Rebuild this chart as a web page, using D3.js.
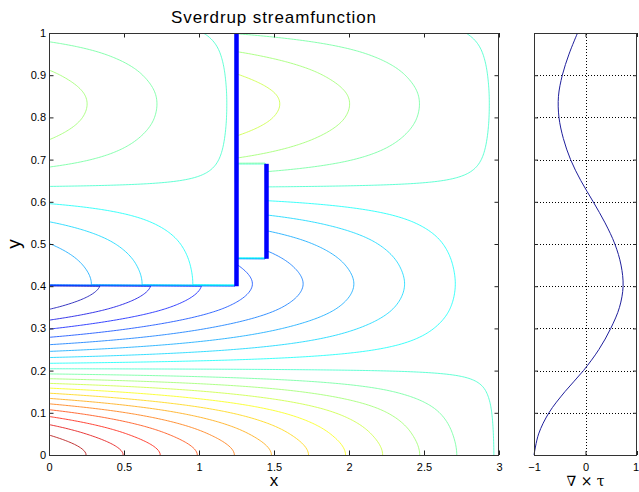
<!DOCTYPE html>
<html>
<head>
<meta charset="utf-8">
<script src="https://cdn.jsdelivr.net/npm/d3@7"></script>
<style>
  body { margin: 0; background: #fff; }
  svg { display: block; }
  text { font-family: "Liberation Sans", Arial, Helvetica, sans-serif; fill: #000; }
</style>
</head>
<body>
<svg id="fig" width="639" height="492"></svg>
<script>
// Wind-stress curl profile (right panel), sampled every 0.05 in y
const curlY = [0, 0.05, 0.1, 0.15, 0.2, 0.25, 0.3, 0.35, 0.4, 0.45, 0.5,
               0.55, 0.6, 0.65, 0.7, 0.75, 0.8, 0.85, 0.9, 0.95, 1];
const curlValues = [-1.00, -0.91, -0.71, -0.40, -0.04, 0.26, 0.49, 0.66, 0.73, 0.69, 0.57,
                    0.38, 0.15, -0.09, -0.29, -0.43, -0.515, -0.525, -0.45, -0.32, -0.155];

// Coastline geometry: eastern boundary, continental wall, shelf edge and island
const eastX = 3;
const wallX = 1.25, shelfY = 0.4;
const islandX = 1.45, islandY0 = 0.465, islandY1 = 0.69;

// Axis ticks
const xTicks = [0, 0.5, 1, 1.5, 2, 2.5, 3];
const xTickLabels = ["0", "0.5", "1", "1.5", "2", "2.5", "3"];
const yTicks = [0, 0.1, 0.2, 0.3, 0.4, 0.5, 0.6, 0.7, 0.8, 0.9, 1];
const yTickLabels = ["0", "0.1", "0.2", "0.3", "0.4", "0.5", "0.6", "0.7", "0.8", "0.9", "1"];
const curlTicks = [-1, 0, 1];
const curlTickLabels = ["\u22121", "0", "1"];
const nLevels = 20;

const svg = d3.select("#fig");

// ---------- scales ----------
const x = d3.scaleLinear([0, 3], [49, 499]);
const y = d3.scaleLinear([0, 1], [455, 33]);
const xr = d3.scaleLinear([-1, 1], [534, 637]);

// ---------- curl interpolation (Catmull-Rom through the samples) ----------
function curlAt(yv) {
  const n = curlValues.length - 1;
  const h = curlY[1] - curlY[0];
  const k = Math.min(n - 1, Math.max(0, Math.floor(yv / h)));
  const t = (yv - curlY[k]) / h;
  const get = i => {
    if (i < 0) return curlValues[-i];                 // mirror: flat at y = 0
    if (i > n) return 2 * curlValues[n] - curlValues[n - 1];
    return curlValues[i];
  };
  const p0 = get(k - 1), p1 = get(k), p2 = get(k + 1), p3 = get(k + 2);
  return 0.5 * (2 * p1 + (-p0 + p2) * t + (2 * p0 - 5 * p1 + 4 * p2 - p3) * t * t +
                (-p0 + 3 * p1 - 3 * p2 + p3) * t * t * t);
}

// ---------- Sverdrup streamfunction on a grid ----------
const nx = 301, ny = 281;
const gx = d3.range(nx).map(i => i * 3 / (nx - 1));
const gy = d3.range(ny).map(j => j / (ny - 1));
const cy = gy.map(curlAt);
const field = new Float64Array(nx * ny);
for (let j = 0; j < ny; j++) {
  for (let i = 0; i < nx; i++) {
    const xv = gx[i], yv = gy[j];
    let v;
    if (xv < wallX - 1e-9 && yv > shelfY + 1e-9) {
      v = -(wallX - xv) * cy[j];                    // basin closed by the wall
    } else if (xv > wallX + 1e-9 && xv < islandX - 1e-9 && yv > islandY0 && yv < islandY1) {
      v = 0;                                        // land between wall and island
    } else {
      v = -(eastX - xv) * cy[j];                    // integrated from the eastern boundary
    }
    field[j * nx + i] = v;
  }
}
const ext = d3.extent(field);
const levels = d3.range(1, nLevels + 1).map(k => ext[0] + k * (ext[1] - ext[0]) / (nLevels + 1));

function jet(t) {
  const c = v => Math.round(255 * Math.max(0, Math.min(1, v)));
  return `rgb(${c(1.5 - Math.abs(4 * t - 3))},${c(1.5 - Math.abs(4 * t - 2))},${c(1.5 - Math.abs(4 * t - 1))})`;
}

// Marching squares isolines, stitched into polylines
function isolines(L) {
  const V = (i, j) => field[j * nx + i];
  const pts = new Map();
  const adj = new Map();
  const hKey = (i, j) => {
    const k = (j * nx + i) * 2;
    if (!pts.has(k)) {
      const a = V(i, j), b = V(i + 1, j), t = (L - a) / (b - a);
      pts.set(k, [gx[i] + t * (gx[i + 1] - gx[i]), gy[j]]);
    }
    return k;
  };
  const vKey = (i, j) => {
    const k = (j * nx + i) * 2 + 1;
    if (!pts.has(k)) {
      const a = V(i, j), b = V(i, j + 1), t = (L - a) / (b - a);
      pts.set(k, [gx[i], gy[j] + t * (gy[j + 1] - gy[j])]);
    }
    return k;
  };
  const link = (p, q) => {
    if (!adj.has(p)) adj.set(p, []);
    if (!adj.has(q)) adj.set(q, []);
    adj.get(p).push(q);
    adj.get(q).push(p);
  };
  for (let j = 0; j < ny - 1; j++) {
    for (let i = 0; i < nx - 1; i++) {
      const a = V(i, j), b = V(i + 1, j), c = V(i + 1, j + 1), d = V(i, j + 1);
      const idx = (a >= L ? 1 : 0) | (b >= L ? 2 : 0) | (c >= L ? 4 : 0) | (d >= L ? 8 : 0);
      if (idx === 0 || idx === 15) continue;
      const B = () => hKey(i, j), R = () => vKey(i + 1, j), T = () => hKey(i, j + 1), W = () => vKey(i, j);
      const center = (a + b + c + d) / 4 >= L;
      switch (idx) {
        case 1: case 14: link(W(), B()); break;
        case 2: case 13: link(B(), R()); break;
        case 3: case 12: link(W(), R()); break;
        case 4: case 11: link(R(), T()); break;
        case 6: case 9: link(B(), T()); break;
        case 7: case 8: link(W(), T()); break;
        case 5:
          if (center) { link(B(), R()); link(T(), W()); } else { link(W(), B()); link(R(), T()); }
          break;
        case 10:
          if (center) { link(W(), B()); link(R(), T()); } else { link(B(), R()); link(T(), W()); }
          break;
      }
    }
  }
  const lines = [];
  const take = start => {
    const line = [pts.get(start)];
    let cur = start;
    while (adj.get(cur).length) {
      const nxt = adj.get(cur).pop();
      const back = adj.get(nxt);
      back.splice(back.indexOf(cur), 1);
      line.push(pts.get(nxt));
      cur = nxt;
    }
    return line;
  };
  for (const [k, n] of adj) if (n.length === 1) lines.push(take(k));
  for (const [k, n] of adj) if (n.length > 0) lines.push(take(k));
  return lines;
}

// ---------- main panel ----------
svg.append("defs").append("clipPath").attr("id", "plotClip")
  .append("rect").attr("x", x(0)).attr("y", y(1)).attr("width", x(3) - x(0)).attr("height", y(0) - y(1));

const line = d3.line().x(d => x(d[0])).y(d => y(d[1]));
const gC = svg.append("g").attr("clip-path", "url(#plotClip)").attr("fill", "none");
levels.forEach(L => {
  const col = jet((L - ext[0]) / (ext[1] - ext[0]));
  isolines(L).forEach(pl => {
    gC.append("path").attr("d", line(pl)).attr("stroke", col).attr("stroke-width", 1)
      .attr("stroke-opacity", 0.78).attr("stroke-linejoin", "round");
  });
});

// coastline walls
const walls = [
  [[wallX, shelfY], [wallX, 1]],
  [[islandX, islandY0], [islandX, islandY1]]
];
svg.append("g").selectAll("path").data(walls).join("path")
  .attr("d", line).attr("stroke", "#0000ff").attr("stroke-width", 4.5).attr("fill", "none");

// axes (ticks inward on all four sides)
const tickStroke = g => {
  g.select(".domain").remove();
  g.selectAll(".tick line").attr("stroke", "#222");
  g.selectAll(".tick text").attr("font-size", 11).attr("font-family", '"Liberation Sans", Arial, sans-serif');
};
svg.append("g").attr("transform", `translate(0,${y(0)})`)
  .call(d3.axisBottom(x).tickValues(xTicks).tickFormat((d, i) => xTickLabels[i])
    .tickSizeInner(-4.5).tickSizeOuter(0).tickPadding(8)).call(tickStroke);
svg.append("g").attr("transform", `translate(0,${y(1)})`)
  .call(d3.axisTop(x).tickValues(xTicks).tickFormat("").tickSizeInner(-4.5).tickSizeOuter(0)).call(tickStroke);
svg.append("g").attr("transform", `translate(${x(0)},0)`)
  .call(d3.axisLeft(y).tickValues(yTicks).tickFormat((d, i) => yTickLabels[i])
    .tickSizeInner(-4.5).tickSizeOuter(0).tickPadding(3)).call(tickStroke);
svg.append("g").attr("transform", `translate(${x(3)},0)`)
  .call(d3.axisRight(y).tickValues(yTicks).tickFormat("").tickSizeInner(-4.5).tickSizeOuter(0)).call(tickStroke);

svg.append("rect").attr("x", x(0) + 0.5).attr("y", y(1) + 0.5)
  .attr("width", x(3) - x(0) - 1).attr("height", y(0) - y(1))
  .attr("fill", "none").attr("stroke", "#333").attr("stroke-width", 1);

svg.append("text").attr("x", (x(0) + x(3)) / 2).attr("y", 23).attr("text-anchor", "middle")
  .attr("font-size", 17).attr("letter-spacing", 0.9).text("Sverdrup streamfunction");
svg.append("text").attr("x", (x(0) + x(3)) / 2).attr("y", 486).attr("text-anchor", "middle")
  .attr("font-size", 17).text("x");
svg.append("text").attr("transform", `translate(20,${y(0.5)}) rotate(-90)`).attr("text-anchor", "middle")
  .attr("font-size", 19).text("y");

// ---------- right panel: curl profile ----------
const gR = svg.append("g");
gR.selectAll("line.hgrid").data(yTicks.filter(v => v > 0 && v < 1)).join("line")
  .attr("class", "hgrid")
  .attr("x1", xr(-1)).attr("x2", xr(1)).attr("y1", d => Math.round(y(d)) + 0.5).attr("y2", d => Math.round(y(d)) + 0.5)
  .attr("stroke", "#000").attr("stroke-width", 1).attr("stroke-dasharray", "1,2");
gR.append("line").attr("x1", Math.round(xr(0)) + 0.5).attr("x2", Math.round(xr(0)) + 0.5)
  .attr("y1", y(0)).attr("y2", y(1))
  .attr("stroke", "#000").attr("stroke-width", 1).attr("stroke-dasharray", "1,2");

const curlLine = d3.line().x(d => xr(d[0])).y(d => y(d[1])).curve(d3.curveCatmullRom);
gR.append("path").datum(curlValues.map((c, i) => [c, curlY[i]]))
  .attr("d", curlLine).attr("fill", "none").attr("stroke", "#1f1f9c").attr("stroke-width", 1);

svg.append("g").attr("transform", `translate(0,${y(0)})`)
  .call(d3.axisBottom(xr).tickValues(curlTicks).tickFormat((d, i) => curlTickLabels[i])
    .tickSizeInner(-4).tickSizeOuter(0).tickPadding(8)).call(tickStroke)
  .call(g => g.selectAll(".tick text").filter(d => d === 1).attr("dx", -1.5));
svg.append("g").attr("transform", `translate(0,${y(1)})`)
  .call(d3.axisTop(xr).tickValues(curlTicks).tickFormat("").tickSizeInner(-4).tickSizeOuter(0)).call(tickStroke);
svg.append("g").attr("transform", `translate(${xr(-1)},0)`)
  .call(d3.axisLeft(y).tickValues(yTicks).tickFormat("").tickSizeInner(-4).tickSizeOuter(0)).call(tickStroke);
svg.append("g").attr("transform", `translate(${xr(1)},0)`)
  .call(d3.axisRight(y).tickValues(yTicks).tickFormat("").tickSizeInner(-4).tickSizeOuter(0)).call(tickStroke);

svg.append("rect").attr("x", xr(-1) + 0.5).attr("y", y(1) + 0.5)
  .attr("width", xr(1) - xr(-1) - 1).attr("height", y(0) - y(1))
  .attr("fill", "none").attr("stroke", "#333").attr("stroke-width", 1);

svg.append("text").attr("x", xr(0)).attr("y", 486).attr("text-anchor", "middle")
  .style("font-family", '"DejaVu Serif", "Liberation Serif", serif').attr("font-size", 14)
  .text("\u2207 \u00d7 \u03c4");
</script>
</body>
</html>
